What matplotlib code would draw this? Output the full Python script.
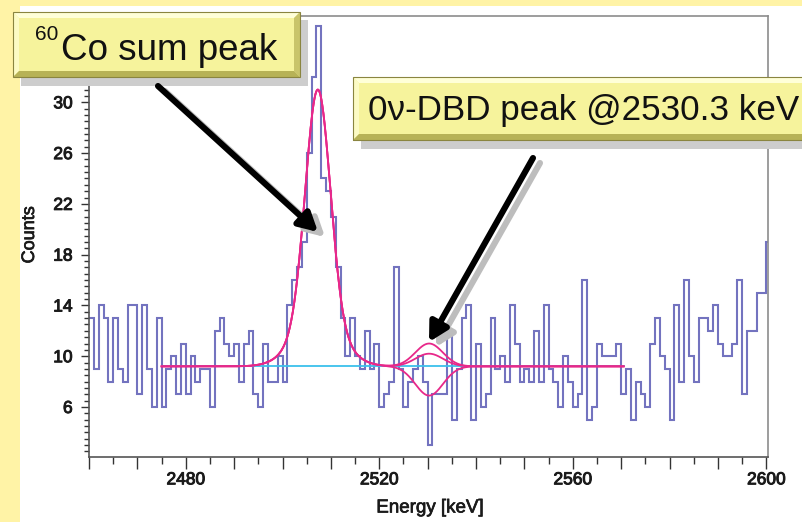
import numpy as np
import matplotlib
matplotlib.use("Agg")
import matplotlib.pyplot as plt
from matplotlib.patches import Rectangle, Polygon, FancyArrowPatch
from matplotlib.ticker import FixedLocator, MultipleLocator, FuncFormatter
import matplotlib.patheffects as pe

# ---- spectrum: counts per 1 keV bin, first bin starts at 2460 keV ----
energy_start = 2460
counts = [
    13, 9, 14, 13, 8, 13, 9, 8, 14, 14,      # 2460-2469
    7, 14, 9, 6, 13, 6, 9, 10, 7, 11,        # 2470-2479
    7, 10, 8, 9, 9, 6, 12, 13, 11, 10,       # 2480-2489
    11, 8, 11, 12, 7, 6, 11, 8, 8, 10,       # 2490-2499
    8, 14, 16, 17, 19, 26, 32, 36, 24, 23,   # 2500-2509
    21, 17, 13, 10, 13, 10, 9, 12, 9, 11,    # 2510-2519
    6, 7, 8, 17, 9, 6, 8, 9, 10, 8,          # 2520-2529
    3, 7, 7, 7, 12, 5, 9, 13, 14, 5,         # 2530-2539
    11, 6, 7, 13, 9, 10, 8, 14, 11, 8,       # 2540-2549
    9, 8, 12, 8, 14, 9, 8, 6, 10, 8,         # 2550-2559
    6, 7, 16, 5, 6, 11, 10, 10, 10, 11,      # 2560-2569
    7, 9, 5, 8, 7, 6, 11, 13, 10, 9,         # 2570-2579
    5, 14, 8, 16, 10, 8, 13, 13, 12, 14,     # 2580-2589
    11, 10, 10, 11, 16, 7, 12, 12, 15, 15,   # 2590-2599
    19,                                      # 2600
]

# ---- fit model: flat background + 60Co sum peak + 0v-DBD line ----
fit_lo, fit_hi = 2475.0, 2570.5
background = 9.2
co_center = 2507.3
co_core_amp, co_core_sigma = 18.3, 2.55
co_wide_amp, co_wide_sigma = 3.5, 4.8
dbd_center = 2530.3
dbd_sigma = 2.85
dbd_amplitudes = [1.8, 1.0, -2.3]

W, H = 802, 522
YELLOW = "#FFF3A6"
HIST_COL = "#5A5AB4"
FIT_COL = "#E8288A"
BKG_COL = "#3CC0EC"
INK = "#1A1A1A"

plt.rcParams["font.family"] = ["Liberation Sans", "DejaVu Sans"]

fig = plt.figure(figsize=(W / 100, H / 100), dpi=100, facecolor=YELLOW)


def fx(px):
    return px / W


def fy(py):
    return 1 - py / H


# white drawing panel
fig.patches.append(Rectangle((fx(20), 0), 1 - fx(20), fy(6), transform=fig.transFigure,
                             facecolor="white", edgecolor="none", zorder=-10))

ax = fig.add_axes([fx(89), fy(456.5), fx(768) - fx(89), fy(16) - fy(456.5)])
ax.set_zorder(1)
ax.set_facecolor("white")

edges = np.arange(energy_start, energy_start + len(counts) + 1)
ax.stairs(counts, edges, baseline=None, color=HIST_COL, lw=1.5, alpha=0.85, zorder=2)

e = np.linspace(fit_lo, fit_hi, 1500)
base_model = (background
              + co_core_amp * np.exp(-0.5 * ((e - co_center) / co_core_sigma) ** 2)
              + co_wide_amp * np.exp(-0.5 * ((e - co_center) / co_wide_sigma) ** 2))
ax.plot([fit_lo, fit_hi], [background, background], color=BKG_COL, lw=1.3, zorder=3)
for amp in dbd_amplitudes:
    model = base_model + amp * np.exp(-0.5 * ((e - dbd_center) / dbd_sigma) ** 2)
    ax.plot(e, model, color=FIT_COL, lw=1.3, zorder=4)

ax.set_xlim(2460, 2600.35)
ax.set_ylim(2.1, 36.8)

ax.xaxis.set_major_locator(FixedLocator(np.arange(2460, 2601, 10)))
ax.xaxis.set_minor_locator(MultipleLocator(5))
ax.xaxis.set_major_formatter(FuncFormatter(lambda v, p: f"{int(round(v))}" if round(v) % 40 == 0 else ""))
ax.yaxis.set_major_locator(FixedLocator(np.arange(6, 31, 4)))
ax.yaxis.set_minor_locator(MultipleLocator(0.5))
ax.tick_params(axis="both", which="both", direction="out", colors="#333333", labelcolor=INK,
               labelsize=12.5)
ax.tick_params(axis="x", which="major", length=8.4, width=1.0, pad=3)
ax.tick_params(axis="x", which="minor", length=4.8, width=1.0)
ax.tick_params(axis="y", which="major", length=5.8, width=1.0, pad=6)
ax.tick_params(axis="y", which="minor", length=3.6, width=1.0)
for lab in ax.get_xticklabels() + ax.get_yticklabels():
    lab.set_path_effects([pe.withStroke(linewidth=0.7, foreground=INK)])
for side, sp in ax.spines.items():
    sp.set_color("#555555" if side in ("left", "bottom") else "#8C8C8C")
    sp.set_linewidth(1.2)

heavy = [pe.withStroke(linewidth=0.5, foreground=INK)]
fig.text(fx(430), fy(508), "Energy [keV]", ha="center", va="center", fontsize=13.5,
         color=INK, path_effects=heavy)
fig.text(fx(29.5), fy(235), "Counts", ha="center", va="center", rotation=90, fontsize=13,
         color=INK, path_effects=heavy)


def callout(x0, y0, x1, y1, bevel=6):
    # drop shadow
    fig.patches.append(Rectangle((fx(x0 + 8), fy(y1 + 9)), fx(x1 + 8) - fx(x0 + 8), fy(y0 + 8) - fy(y1 + 9),
                                 transform=fig.transFigure, facecolor="#CDCDCD", edgecolor="none", zorder=5))
    # face
    fig.patches.append(Rectangle((fx(x0), fy(y1)), fx(x1) - fx(x0), fy(y0) - fy(y1),
                                 transform=fig.transFigure, facecolor="#F6F39C", edgecolor="none", zorder=6))
    # bevel strips
    b = bevel
    strips = [
        ([(x0, y0), (x1, y0), (x1 - b, y0 + b), (x0 + b, y0 + b)], "#FFFFD8"),
        ([(x0, y0), (x0 + b, y0 + b), (x0 + b, y1 - b), (x0, y1)], "#FCFBC4"),
        ([(x1, y0), (x1, y1), (x1 - b, y1 - b), (x1 - b, y0 + b)], "#C9C46A"),
        ([(x0, y1), (x0 + b, y1 - b), (x1 - b, y1 - b), (x1, y1)], "#B7B256"),
    ]
    for pts, col in strips:
        fig.patches.append(Polygon([(fx(px), fy(py)) for px, py in pts], closed=True,
                                   transform=fig.transFigure, facecolor=col, edgecolor="none", zorder=7))
    fig.patches.append(Rectangle((fx(x0), fy(y1)), fx(x1) - fx(x0), fy(y0) - fy(y1),
                                 transform=fig.transFigure, facecolor="none", edgecolor="#8A8540",
                                 lw=0.8, zorder=8))


callout(13, 12, 300, 77)
callout(353, 77, 830, 140)
fig.text(fx(35), fy(40), "60", ha="left", va="baseline", fontsize=15, color="#111111", zorder=9)
fig.text(fx(61), fy(60), "Co sum peak", ha="left", va="baseline", fontsize=26.5,
         color="#111111", zorder=9)
fig.text(fx(368), fy(120), "0\u03bd-DBD peak @2530.3 keV", ha="left", va="baseline", fontsize=25.2,
         color="#111111", zorder=9)


def arrow(p0, p1):
    for off, col, z in (((7, 5), "#BDBDBD", 10), ((0, 0), "black", 11)):
        a = FancyArrowPatch((fx(p0[0] + off[0]), fy(p0[1] + off[1])),
                            (fx(p1[0] + off[0]), fy(p1[1] + off[1])),
                            transform=fig.transFigure, arrowstyle="-|>,head_length=11,head_width=6",
                            lw=4.4, color=col, shrinkA=0, shrinkB=0, zorder=z)
        fig.patches.append(a)


arrow((158, 86), (318, 232))
arrow((533, 158), (429, 342))

fig.savefig("out.png", dpi=100, facecolor=fig.get_facecolor())
